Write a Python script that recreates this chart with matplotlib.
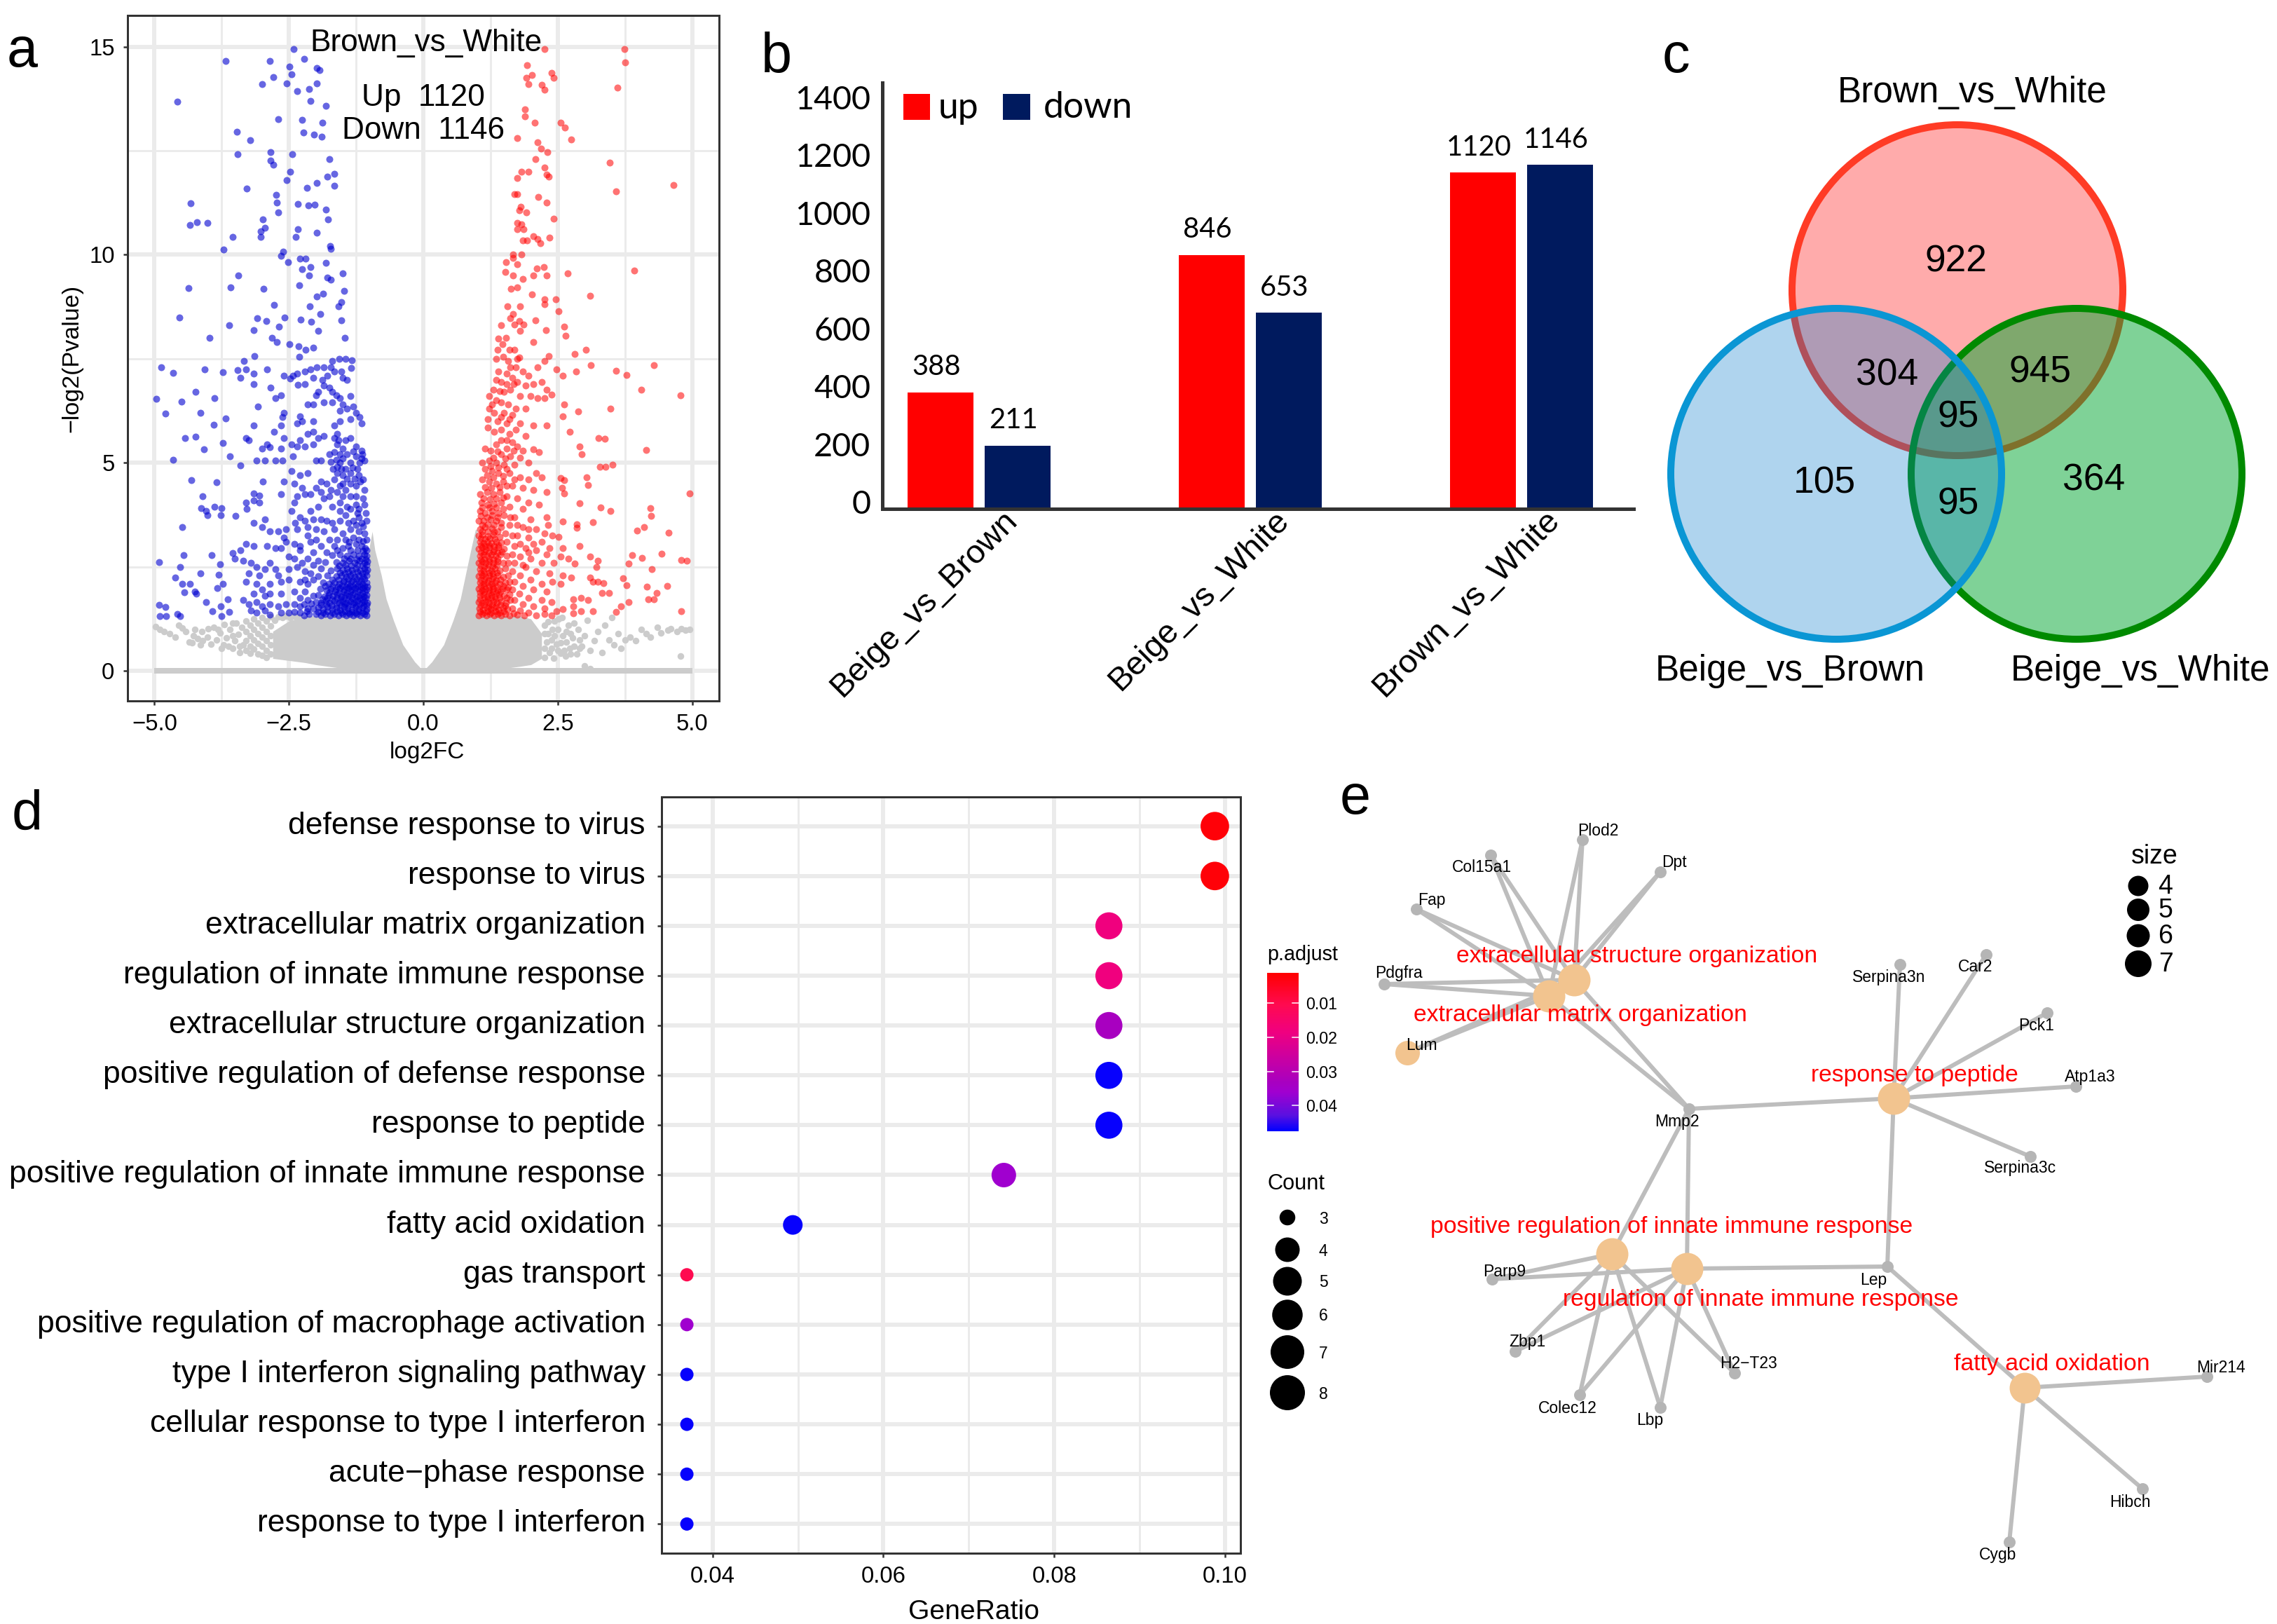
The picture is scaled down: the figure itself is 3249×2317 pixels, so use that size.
import numpy as np
import matplotlib
matplotlib.use("Agg")
import matplotlib.pyplot as plt
from matplotlib.patches import Circle, Rectangle
from matplotlib.colors import LinearSegmentedColormap, Normalize
from matplotlib.cm import ScalarMappable
from matplotlib.transforms import ScaledTranslation

W, H, DPI = 3249, 2317, 300
PT = 72 / DPI  # one image pixel in points
ARIAL = "Liberation Sans"
CALIBRI = "Lato"
plt.rcParams["font.family"] = [ARIAL, "DejaVu Sans"]

# panel a: volcano points, (log2FC, -log2 Pvalue)
blue_pts = [
    (-2.41,14.94),(-3.68,14.65),(-2.85,14.65),(-2.21,14.71),(-2.49,14.52),(-1.98,14.48),(-1.93,14.43),(-2.45,14.33),
    (-2.79,14.26),(-2.54,14.12),(-3.0,14.1),(-1.98,14.11),(-2.12,13.98),(-2.34,13.93),(-4.58,13.68),(-2.1,13.69),
    (-1.81,13.58),(-2.7,13.25),(-2.26,13.24),(-1.88,13.18),(-3.47,12.96),(-2.23,12.93),(-2.03,12.89),(-1.89,12.83),
    (-3.22,12.76),(-2.84,12.47),(-3.46,12.42),(-2.44,12.42),(-1.74,12.29),(-2.84,12.26),(-2.79,12.16),(-2.48,11.99),
    (-1.65,11.94),(-1.79,11.87),(-2.54,11.79),(-1.65,11.66),(-1.98,11.73),(-2.16,11.61),(-3.28,11.59),(-2.74,11.44),
    (-2.73,11.25),(-4.33,11.24),(-2.33,11.22),(-2.14,11.18),(-2.02,11.21),(-1.81,11.08),(-2.7,11.01),(-2.98,10.85),
    (-1.77,10.85),(-4.21,10.79),(-4.01,10.77),(-4.34,10.71),(-2.95,10.65),(-2.33,10.62),(-3.02,10.57),(-1.98,10.53),
    (-3.54,10.43),(-3.02,10.43),(-2.37,10.42),(-1.73,10.21),(-3.72,10.13),(-1.72,10.15),(-2.61,10.07),(-2.65,9.98),
    (-2.29,9.91),(-2.19,9.9),(-2.52,9.83),(-1.81,9.81),(-2.1,9.71),(-2.26,9.66),(-2.13,9.51),(-3.44,9.51),(-1.5,9.55),
    (-1.79,9.45),(-1.72,9.4),(-2.31,9.27),(-3.58,9.22),(-2.97,9.19),(-4.36,9.2),(-1.47,9.13),(-1.87,9.07),(-1.98,8.99),
    (-1.52,8.87),(-2.78,8.8),(-2.11,8.76),(-1.58,8.76),(-1.91,8.58),(-4.54,8.5),(-2.58,8.49),(-3.09,8.47),(-2.28,8.44),
    (-1.53,8.42),(-2.92,8.41),(-2.09,8.39),(-3.61,8.3),(-2.68,8.27),(-3.15,8.19),(-1.95,8.18),(-2.81,8.01),(-3.98,8.0),
    (-1.46,8.0),(-2.73,7.9),(-2.49,7.86),(-2.05,7.77),(-2.19,7.72),(-2.32,7.8),(-2.31,7.55),(-3.14,7.56),(-3.33,7.44),
    (-4.87,7.3),(-4.65,7.16),(-4.07,7.24),(-3.73,7.18),(-3.45,7.23),(-3.3,7.25),(-3.15,7.15),(-2.9,7.25),(-2.2,7.2),
    (-2.35,7.15),(-2.43,7.1),(-2.48,7.02),(-2.6,7.1),(-2.1,7.25),(-1.98,7.3),(-1.85,7.3),(-1.7,7.45),(-1.57,7.5),
    (-1.45,7.5),(-1.33,7.47),(-1.72,7.3),(-1.65,7.2),(-1.78,7.1),(-1.53,7.2),(-1.34,7.28),(-1.5,7.05),(-1.42,7.0),
    (-1.88,7.0),(-2.05,7.05),(-2.2,6.9),(-2.33,6.88),(-1.85,6.85),(-1.75,6.8),(-1.7,6.7),(-1.95,6.7),(-2.0,6.62),
    (-2.65,6.63),(-2.84,6.8),(-3.15,6.9),(-3.4,7.05),(-2.75,6.55),(-3.08,6.35),(-1.62,6.62),(-1.55,6.55),(-1.7,6.45),
    (-1.85,6.45),(-2.05,6.4),(-2.15,6.4),(-1.5,6.4),(-1.35,6.6),(-1.3,6.35),(-1.42,6.3),(-1.55,6.25),(-1.25,6.2),
    (-1.18,6.1),(-2.6,6.2),(-2.62,6.1),(-2.3,6.12),(-2.25,6.0),(-2.05,6.0),(-2.65,5.9),(-2.35,5.95),(-2.05,5.75),
    (-2.15,5.7),(-1.65,5.9),(-1.55,6.0),(-1.35,6.05),(-1.15,5.95),(-2.78,5.75),(-3.15,5.9),(-3.25,5.55),(-2.9,5.45),
    (-3.0,5.35),(-2.85,5.38),(-3.3,5.6),(-2.6,5.6),(-2.3,5.55),(-2.2,5.4),(-2.05,5.45),(-1.95,5.6),(-1.85,5.65),
    (-1.65,5.6),(-1.6,5.7),(-1.58,5.55),(-1.45,5.55),(-1.35,5.6),(-1.6,5.45),(-1.25,5.4),(-1.15,5.3),(-1.13,5.2),
    (-2.35,5.4),(-2.45,5.45),(-2.42,5.15),(-2.65,5.35),(-1.5,5.1),(-1.15,5.1),(-1.25,5.15),(-1.65,5.25),(-1.75,5.2),
    (-2.95,5.05),(-3.1,5.05),(-2.75,5.05),(-2.62,5.05),(-2.0,5.05),(-1.9,5.05),(-1.55,5.0),(-1.6,4.9),(-1.45,4.85),
    (-1.35,5.0),(-1.22,4.85),(-1.1,5.05),(-1.5,4.7),(-1.6,4.75),(-1.35,4.75),(-1.2,4.7),(-1.12,4.6),
    (-4.96,6.53),(-4.79,6.19),(-4.5,6.47),(-4.24,6.7),(-3.89,6.55),(-4.14,6.2),(-3.9,5.91),(-3.67,6.07),(-4.43,5.6),
    (-4.24,5.63),(-3.73,5.48),(-4.08,5.33),(-4.65,5.07),(-3.6,5.16),(-3.4,4.94),(-4.32,4.58),(-3.84,4.54),(-4.11,4.19),
    (-4.13,3.91),(-4.04,3.84),(-3.89,3.94),(-3.75,3.91),(-4.01,3.74),(-3.77,3.74),(-4.48,3.46),(-3.49,3.73),(-3.29,3.89),
    (-3.93,2.78),(-4.46,2.78),(-4.91,2.62),(-4.52,2.49),(-4.61,2.25),(-4.15,2.35),(-4.34,2.1),(-4.48,2.1),(-4.44,1.89),
    (-4.22,1.85),(-4.04,1.65),(-4.91,1.58),(-4.8,1.54),(-4.9,1.32),(-4.78,1.32),(-4.58,1.36),(-4.52,1.32),(-4.25,1.9),
    (-3.78,2.57),(-3.55,2.83),(-3.8,2.31),(-3.83,1.99),(-3.73,2.1),(-3.92,1.44),(-3.77,1.56),(-3.75,1.32),(-3.61,1.42),
    (-3.64,1.73),
    (-2.45,4.8),(-2.3,4.7),(-2.15,4.75),(-2.98,4.55),(-2.6,4.55),(-2.4,4.5),(-1.9,4.55),(-1.8,4.5),(-1.65,4.6),(-1.5,4.5),
    (-1.35,4.5),(-1.25,4.45),(-1.1,4.35),(-1.6,4.3),(-1.5,4.2),(-1.35,4.2),(-1.75,4.2),(-1.85,4.15),(-2.2,4.25),(-2.1,4.25),
    (-2.65,4.25),(-3.15,4.27),(-3.05,4.22),(-3.3,4.05),(-3.15,4.1),(-3.05,4.05),(-2.4,4.05),(-1.55,4.05),(-1.7,3.95),
    (-1.25,4.0),(-1.1,4.0),(-1.2,3.9),(-1.35,3.9),(-1.45,3.75),(-1.55,3.85),(-2.1,3.85),(-2.3,3.7),(-2.2,3.6),(-2.38,3.55),
    (-2.05,3.65),(-1.9,3.65),(-1.8,3.6),(-1.7,3.55),(-1.55,3.6),(-1.3,3.6),(-1.2,3.7),(-1.15,3.55),(-1.05,3.6),(-2.95,3.65),
    (-3.15,3.55),(-3.0,3.45),(-2.85,3.35),(-2.7,3.35),(-2.55,3.4),(-2.15,3.45),(-2.0,3.4),(-1.85,3.35),(-1.65,3.4),(-1.5,3.3),
    (-1.35,3.4),(-1.2,3.35),(-1.1,3.3),(-1.05,3.15),(-1.3,3.2),(-1.45,3.15),(-1.6,3.15),(-1.75,3.15),(-2.0,3.15),(-2.1,3.1),
    (-2.3,3.0),(-2.55,3.1),(-2.6,3.2),(-2.75,2.95),(-3.3,3.05),(-3.4,2.9),(-3.15,3.0),(-2.9,3.0),(-2.65,2.95),(-2.4,3.05),
    (-2.3,2.9),(-1.65,3.0),(-1.5,2.95),(-1.4,3.0),(-1.25,3.05),(-1.15,3.0),(-1.08,2.95),
    (-3.5,2.7),(-3.35,2.65),(-3.2,2.6),(-3.1,2.5),(-2.85,2.6),(-2.95,2.45),(-2.75,2.45),(-3.25,2.35),(-3.05,2.3),(-2.7,2.3),
    (-2.5,2.45),(-2.35,2.5),(-2.2,2.4),(-2.1,2.35),(-3.3,2.15),(-3.1,2.1),(-2.85,2.1),(-2.65,2.15),(-2.5,2.2),(-2.3,2.15),
    (-2.15,2.1),(-3.0,1.95),(-3.15,1.85),(-2.95,1.8),(-2.85,1.85),(-2.65,1.85),(-2.4,1.9),(-2.2,1.9),(-3.35,1.7),(-3.25,1.6),
    (-3.1,1.65),(-3.0,1.55),(-2.85,1.6),(-2.7,1.55),(-2.55,1.6),(-2.4,1.6),(-2.3,1.55),(-3.2,1.45),(-3.1,1.4),(-2.95,1.45),
    (-2.85,1.35),(-2.65,1.4),(-2.5,1.4),(-2.4,1.42),(-2.3,1.4),(-2.15,1.5),
]
# the crowded base of the blue fan
blue_core = [
    (-2.0,1.36),(-1.9,1.34),(-1.82,1.37),(-1.73,1.34),(-1.66,1.36),(-1.58,1.33),(-1.5,1.36),(-1.44,1.34),(-1.37,1.37),
    (-1.3,1.33),(-1.24,1.36),(-1.17,1.34),(-1.1,1.37),(-1.05,1.34),(-2.05,1.5),(-1.95,1.52),(-1.86,1.48),(-1.78,1.53),
    (-1.7,1.49),(-1.62,1.52),(-1.55,1.47),(-1.47,1.53),(-1.41,1.5),(-1.33,1.47),(-1.27,1.53),(-1.2,1.49),(-1.13,1.52),
    (-1.06,1.48),(-2.0,1.66),(-1.9,1.63),(-1.81,1.68),(-1.74,1.64),(-1.66,1.68),(-1.57,1.63),(-1.5,1.67),(-1.43,1.63),
    (-1.36,1.67),(-1.29,1.64),(-1.22,1.68),(-1.15,1.63),(-1.09,1.67),(-1.04,1.63),(-1.95,1.82),(-1.84,1.79),(-1.76,1.83),
    (-1.68,1.8),(-1.6,1.84),(-1.52,1.79),(-1.45,1.83),(-1.38,1.8),(-1.31,1.84),(-1.24,1.79),(-1.17,1.83),(-1.11,1.79),
    (-1.05,1.82),(-1.92,1.97),(-1.8,1.94),(-1.72,1.98),(-1.63,1.95),(-1.55,1.99),(-1.47,1.95),(-1.4,1.99),(-1.33,1.95),
    (-1.26,1.99),(-1.19,1.95),(-1.12,1.99),(-1.06,1.95),(-1.87,2.12),(-1.76,2.09),(-1.66,2.13),(-1.56,2.1),(-1.48,2.14),
    (-1.41,2.1),(-1.34,2.14),(-1.27,2.1),(-1.2,2.14),(-1.13,2.1),(-1.06,2.13),(-1.95,2.27),(-1.78,2.3),(-1.62,2.27),
    (-1.52,2.3),(-1.44,2.26),(-1.36,2.3),(-1.28,2.26),(-1.2,2.3),(-1.12,2.26),(-1.05,2.29),(-1.9,2.46),(-1.72,2.42),
    (-1.6,2.47),(-1.5,2.43),(-1.42,2.47),(-1.33,2.43),(-1.25,2.47),(-1.17,2.42),(-1.09,2.46),(-1.04,2.43),(-1.83,2.62),
    (-1.62,2.62),(-1.5,2.6),(-1.38,2.64),(-1.28,2.6),(-1.18,2.64),(-1.1,2.6),(-1.04,2.63),(-1.7,2.78),(-1.55,2.8),
    (-1.42,2.76),(-1.3,2.8),(-1.2,2.76),(-1.1,2.8),(-1.05,2.76),
    # second pass through the same band
    (-1.96,1.42),(-1.87,1.41),(-1.78,1.43),(-1.69,1.41),(-1.6,1.43),(-1.53,1.4),(-1.46,1.43),(-1.4,1.41),(-1.33,1.42),
    (-1.26,1.4),(-1.2,1.43),(-1.14,1.41),(-1.07,1.43),(-1.9,1.58),(-1.8,1.6),(-1.71,1.57),(-1.62,1.6),(-1.53,1.57),
    (-1.46,1.6),(-1.39,1.57),(-1.32,1.6),(-1.25,1.57),(-1.18,1.6),(-1.11,1.57),(-1.05,1.58),(-1.88,1.73),(-1.78,1.75),
    (-1.7,1.72),(-1.6,1.75),(-1.54,1.72),(-1.47,1.75),(-1.4,1.72),(-1.33,1.75),(-1.26,1.72),(-1.19,1.75),(-1.13,1.72),
    (-1.07,1.75),(-1.74,1.89),(-1.64,1.9),(-1.57,1.87),(-1.49,1.9),(-1.42,1.87),(-1.35,1.9),(-1.28,1.87),(-1.21,1.9),
    (-1.14,1.87),(-1.08,1.9),(-1.83,2.04),(-1.69,2.05),(-1.59,2.03),(-1.51,2.05),(-1.44,2.03),(-1.37,2.05),(-1.3,2.03),
    (-1.23,2.05),(-1.16,2.03),(-1.09,2.05),(-1.04,2.02),(-1.7,2.2),(-1.58,2.2),(-1.47,2.18),(-1.39,2.21),(-1.31,2.18),
    (-1.24,2.21),(-1.16,2.18),(-1.09,2.21),(-1.55,2.37),(-1.46,2.35),(-1.39,2.38),(-1.31,2.35),(-1.22,2.38),(-1.14,2.35),
    (-1.07,2.38),(-1.57,2.53),(-1.45,2.55),(-1.34,2.53),(-1.22,2.55),(-1.13,2.53),(-1.06,2.55),(-1.47,2.7),(-1.36,2.7),
    (-1.24,2.68),(-1.15,2.7),(-1.07,2.68),(-1.35,2.9),(-1.22,2.9),(-1.12,2.88),(-1.06,2.9),(-1.6,2.9),(-1.2,3.15),
    (-1.12,3.12),(-1.38,3.1),(-1.12,3.48),(-1.25,3.5),(-1.4,3.55),(-1.07,3.8),(-1.22,3.8),(-1.42,3.95),(-1.12,4.15),
    (-1.25,4.2),(-1.45,4.35),(-1.55,4.45),(-1.17,4.55),(-1.28,4.62),(-1.42,4.62),(-1.52,4.85),(-1.32,4.88),(-1.18,5.0),
    (-1.42,5.2),(-1.55,5.2),(-1.3,5.28),(-1.5,5.35),(-1.62,5.08),(-1.72,5.02),(-1.68,4.85),(-1.72,4.35),(-1.9,4.3),
    (-2.0,4.4),(-2.25,4.4),(-2.35,4.2),(-1.95,3.95),(-2.45,3.85),(-2.35,3.4),(-2.15,3.25),(-1.9,3.0),(-1.8,2.85),(-2.05,2.85),
    (-2.15,2.7),(-1.95,2.65),(-2.05,2.55),(-2.25,2.6),(-2.4,2.7),(-2.5,2.75),(-2.05,2.2),(-2.2,2.2),(-2.05,1.8),(-2.15,1.7),
    (-2.3,1.75),(-2.08,1.62),(-2.22,1.6),(-2.12,1.36),(-2.22,1.34),(-2.17,1.43),
]
red_pts = [
    (2.25,14.94),(3.74,14.94),(3.76,14.62),(1.93,14.55),(2.38,14.37),(2.02,14.32),(1.91,14.25),(2.42,14.25),(2.2,14.09),
    (1.96,14.1),(2.26,13.96),(3.61,14.02),(1.89,13.5),(1.89,13.33),(2.07,13.17),(2.56,13.17),(2.63,13.06),(1.74,12.8),
    (2.75,12.77),(2.12,12.71),(2.19,12.55),(2.31,12.46),(2.09,12.3),(3.47,12.22),(2.26,12.09),(1.82,12.0),(1.96,12.0),
    (2.3,11.93),(1.74,11.85),(2.33,11.87),(4.65,11.68),(3.59,11.52),(1.69,11.46),(1.75,11.46),(2.14,11.38),(2.29,11.25),
    (1.81,11.16),(1.78,11.06),(1.91,11.02),(2.42,10.86),(1.75,10.77),(1.82,10.73),(1.87,10.62),(1.74,10.62),(2.04,10.44),
    (1.85,10.35),(1.93,10.35),(2.13,10.38),(2.35,10.41),(2.18,10.27),(1.67,10.01),(1.82,10.01),(1.67,9.92),(1.54,9.83),
    (1.75,9.77),(2.11,9.67),(2.24,9.7),(3.92,9.62),(1.52,9.59),(1.67,9.51),(2.69,9.55),(2.29,9.5),(2.05,9.5),(1.85,9.42),
    (1.74,9.22),(1.63,9.19),(2.02,9.05),(3.1,9.01),(2.46,8.93),(2.25,8.93),(2.25,8.81),(1.56,8.76),(1.8,8.76),(2.51,8.64),
    (1.67,8.58),(2.09,8.42),(1.61,8.47),(1.78,8.41),(1.45,8.3),(1.69,8.33),(1.86,8.33),(2.62,8.28),(2.28,8.19),(1.8,8.18),
    (2.65,8.06),(1.4,7.98),(1.54,8.0),(2.04,7.91),(1.47,7.85),(1.6,7.71),(1.69,7.71),(1.38,7.71),(3.03,7.71),(2.81,7.62),
    (2.33,7.56),(1.78,7.54),(4.29,7.34),(3.12,7.35),(3.59,7.21),(3.78,7.11),(2.84,7.19),(2.6,7.1),(2.48,7.25),(4.05,6.76),
    (4.78,6.62),(2.38,6.64),(2.62,6.4),(3.48,6.3),(2.88,6.24),(2.6,6.12),(2.72,5.74),(3.26,5.6),(3.37,5.57),(4.14,5.31),
    (2.9,5.39),(2.95,5.21),(3.28,4.91),(3.39,4.91),(3.52,4.95),(2.55,4.63),(2.62,4.58),(3.04,4.66),(3.06,4.46),(2.58,4.4),
    (2.62,4.26),(4.95,4.26),(2.9,4.03),(3.3,3.93),(3.48,3.84),(4.22,3.91),(4.24,3.73),(3.15,3.57),(2.86,3.53),(2.59,3.59),
    (4.1,3.45),(3.98,3.37),(4.56,3.32),(2.86,3.44),(2.51,3.22),(2.32,3.5),(4.43,2.81),(3.88,2.78),(4.07,2.71),(3.1,2.75),
    (3.25,2.64),(3.82,2.58),(4.79,2.66),(4.9,2.65),(4.25,2.45),(2.81,2.58),(3.22,2.49),(3.1,2.25),(3.72,2.23),(3.15,2.14),
    (3.25,2.14),(3.35,2.11),(3.78,2.06),(4.16,2.03),(4.54,2.04),(4.34,1.87),(4.29,1.73),(4.18,1.73),(3.82,1.65),(3.45,1.87),
    (3.32,1.87),(3.06,1.71),(2.93,1.75),(2.79,1.73),(2.79,1.56),(4.8,1.43),(3.67,1.56),(3.59,1.42),(3.15,1.44),(2.93,1.44),
    (2.79,1.38),(2.6,1.48),(2.48,1.44),
    (1.35,7.5),(1.48,7.55),(1.58,7.45),(1.72,7.3),(1.85,7.2),(1.95,7.1),(2.12,7.3),(2.25,7.45),(1.4,7.2),(1.55,7.15),(1.65,7.05),
    (1.35,7.0),(1.45,6.95),(1.75,6.95),(1.9,6.85),(2.05,6.9),(2.2,6.95),(2.3,6.75),(1.3,6.75),(1.5,6.7),(1.62,6.75),(1.8,6.6),
    (2.0,6.6),(2.12,6.55),(2.25,6.55),(1.22,6.6),(1.35,6.5),(1.45,6.45),(1.58,6.4),(1.72,6.3),(1.9,6.3),(1.22,6.3),(1.32,6.2),
    (1.5,6.2),(1.65,6.15),(1.2,6.05),(1.38,6.0),(1.55,5.95),(1.8,5.95),(2.05,5.9),(2.3,5.9),(1.2,5.85),(1.32,5.75),(1.45,5.8),
    (1.6,5.7),(1.72,5.8),(1.9,5.65),(1.45,5.55),(1.55,5.55),(1.65,5.5),(1.35,5.45),(1.75,5.4),(1.15,5.35),(1.25,5.3),(1.85,5.3),
    (2.05,5.32),(2.15,5.25),(1.45,5.2),(1.62,5.15),(1.8,5.12),(1.1,5.0),(1.22,5.05),(1.35,5.0),(1.5,4.95),(1.7,4.95),(1.95,5.0),
    (2.1,4.75),(2.2,4.65),(1.15,4.85),(1.28,4.8),(1.4,4.75),(1.6,4.75),(1.8,4.65),(1.95,4.6),(1.1,4.6),(1.22,4.55),(1.35,4.5),
    (1.48,4.55),(1.65,4.45),(1.85,4.4),(2.05,4.35),(2.3,4.3),(1.05,4.25),(1.18,4.3),(1.3,4.25),(1.42,4.3),(1.55,4.2),(1.75,4.15),
    (1.95,4.05),(2.15,4.0),(1.08,4.05),(1.2,4.0),(1.32,4.02),(1.45,4.05),(1.6,3.95),(1.85,3.9),(1.05,3.85),(1.15,3.8),(1.28,3.85),
    (1.4,3.8),(1.5,3.75),(1.7,3.7),(2.0,3.65),(2.3,3.7),(1.03,3.6),(1.12,3.6),(1.25,3.65),(1.35,3.6),(1.45,3.55),(1.6,3.5),
    (1.85,3.45),(2.1,3.4),(2.25,3.3),(2.4,3.25),(1.05,3.4),(1.15,3.45),(1.28,3.42),(1.38,3.35),(1.52,3.3),(1.75,3.25),(1.95,3.2),
    (2.2,3.1),(2.35,2.95),(2.6,2.95),(2.9,3.0),(1.7,3.0),(1.9,2.95),(2.1,2.9),(2.3,2.8),(2.55,2.75),(2.7,2.7),(1.65,2.8),(1.8,2.75),
    (2.0,2.7),(2.2,2.6),(2.42,2.6),(1.7,2.6),(1.9,2.5),(2.1,2.4),(2.35,2.35),(2.6,2.3),(2.75,2.25),(1.65,2.4),(1.8,2.3),(2.0,2.2),
    (2.2,2.1),(2.4,2.15),(2.55,2.1),(1.7,2.15),(1.85,2.05),(2.05,1.95),(2.3,1.9),(1.65,1.95),(1.78,1.85),(1.95,1.75),(2.2,1.7),
    (2.38,1.65),(1.7,1.7),(1.85,1.6),(2.05,1.55),(2.25,1.5),(1.65,1.5),(1.8,1.45),(1.95,1.4),(2.1,1.34),(2.25,1.36),(2.38,1.34),
]
# the crowded base of the red fan
red_core = [
    (1.03,1.34),(1.1,1.37),(1.17,1.33),(1.24,1.36),(1.31,1.34),(1.38,1.37),(1.45,1.33),(1.52,1.36),(1.6,1.34),(1.04,1.5),(1.11,1.47),
    (1.18,1.52),(1.25,1.48),(1.32,1.52),(1.4,1.47),(1.48,1.52),(1.56,1.49),(1.03,1.66),(1.09,1.63),(1.16,1.67),(1.23,1.63),(1.3,1.67),
    (1.37,1.63),(1.45,1.67),(1.54,1.64),(1.05,1.8),(1.12,1.84),(1.19,1.79),(1.26,1.83),(1.33,1.79),(1.41,1.84),(1.5,1.8),(1.6,1.84),
    (1.03,1.97),(1.09,1.94),(1.16,1.98),(1.23,1.94),(1.3,1.98),(1.38,1.94),(1.47,1.98),(1.55,1.95),(1.05,2.12),(1.12,2.09),(1.19,2.13),
    (1.26,2.09),(1.33,2.13),(1.42,2.09),(1.52,2.13),(1.03,2.27),(1.09,2.3),(1.16,2.26),(1.23,2.3),(1.3,2.26),(1.38,2.3),(1.48,2.26),
    (1.58,2.3),(1.05,2.45),(1.12,2.42),(1.19,2.46),(1.26,2.42),(1.33,2.46),(1.42,2.42),(1.52,2.46),(1.03,2.6),(1.09,2.63),(1.16,2.59),
    (1.23,2.63),(1.3,2.59),(1.38,2.63),(1.48,2.6),(1.05,2.76),(1.12,2.8),(1.19,2.76),(1.26,2.8),(1.34,2.76),(1.43,2.8),(1.55,2.76),
    (1.03,2.93),(1.09,2.96),(1.16,2.92),(1.23,2.96),(1.31,2.92),(1.4,2.96),(1.5,2.93),(1.05,3.1),(1.12,3.07),(1.19,3.11),(1.26,3.07),
    (1.35,3.11),(1.45,3.08),(1.03,3.25),(1.1,3.27),(1.2,3.24),(1.3,3.27),(1.42,3.22),
    # second pass through the same band
    (1.06,1.42),(1.13,1.41),(1.2,1.43),(1.27,1.41),(1.34,1.43),(1.42,1.41),(1.5,1.43),(1.07,1.57),(1.14,1.59),(1.21,1.56),(1.28,1.59),
    (1.35,1.56),(1.43,1.59),(1.52,1.57),(1.06,1.73),(1.13,1.75),(1.2,1.72),(1.27,1.75),(1.34,1.72),(1.42,1.75),(1.06,1.89),(1.13,1.9),
    (1.22,1.88),(1.29,1.9),(1.36,1.88),(1.44,1.9),(1.07,2.04),(1.14,2.05),(1.22,2.03),(1.29,2.05),(1.37,2.03),(1.48,2.05),(1.07,2.2),
    (1.14,2.2),(1.21,2.18),(1.28,2.21),(1.35,2.18),(1.44,2.2),(1.07,2.36),(1.14,2.35),(1.22,2.37),(1.29,2.35),(1.37,2.37),(1.07,2.53),
    (1.14,2.52),(1.21,2.54),(1.29,2.52),(1.37,2.54),(1.07,2.69),(1.14,2.68),(1.22,2.7),(1.3,2.68),(1.38,2.7),(1.07,2.85),(1.14,2.86),
    (1.22,2.85),(1.3,2.86),(1.38,2.85),(1.46,2.86),(1.07,3.02),(1.15,3.0),(1.23,3.02),(1.31,3.0),(1.4,3.02),(1.07,3.18),(1.15,3.17),
    (1.24,3.18),(1.33,3.17),(1.1,3.35),(1.2,3.35),(1.32,3.34),(1.45,3.45),(1.1,3.5),(1.2,3.52),(1.32,3.5),(1.07,3.72),(1.18,3.7),
    (1.28,3.74),(1.38,3.7),(1.1,3.93),(1.22,3.92),(1.35,3.93),(1.48,3.9),(1.12,4.15),(1.24,4.13),(1.36,4.15),(1.48,4.17),(1.15,4.42),
    (1.27,4.4),(1.42,4.42),(1.55,4.45),(1.18,4.7),(1.3,4.65),(1.48,4.68),(1.25,4.92),(1.4,4.88),(1.55,4.85),(1.3,5.12),(1.52,5.1),
    (1.38,5.28),(1.55,5.35),(1.68,5.3),(1.7,4.6),(1.62,3.7),(1.75,3.5),(1.55,3.1),(1.65,3.25),(1.58,2.6),(1.6,2.15),(1.58,2.0),(1.62,1.7),
    (1.55,1.75),(1.75,1.35),(1.68,1.38),(1.88,1.34),(1.85,2.55),(1.95,2.85),(2.05,3.05),(1.8,3.05),(1.95,3.4),(1.45,6.1),(1.6,6.05),
    (1.28,6.4),(1.42,6.72),(1.55,6.9),(1.68,6.9),(1.62,7.3),(1.75,7.5),
]
# grey cloud: its outline over the crowded middle, separate points outside it
grey_x = [-2.8,-2.5,-2.2,-2.0,-1.5,-1.02,-1.0,-0.95,-0.9,-0.78,-0.69,-0.55,-0.38,-0.16,0.0,
          0.16,0.38,0.55,0.69,0.8,0.9,0.97,1.0,1.02,1.5,1.8,2.0,2.2]
grey_top = [0.95,1.2,1.32,1.32,1.32,1.32,3.0,3.35,2.9,2.3,1.73,1.2,0.63,0.22,0.0,
            0.22,0.63,1.2,1.73,2.4,3.0,3.4,3.4,1.32,1.32,1.32,1.25,0.9]
grey_bottom = [0.3,0.25,0.2,0.15,0.06,0.02,0.02,0.01,0.0,0.0,0.0,0.0,0.0,0.0,0.0,
               0.0,0.0,0.0,0.0,0.0,0.0,0.01,0.02,0.02,0.06,0.11,0.15,0.3]
grey_pts = [
    (-4.98,1.07),(-4.9,1.0),(-4.82,0.95),(-4.72,0.9),(-4.62,0.82),(-4.55,1.1),(-4.48,1.03),(-4.42,0.95),(-4.35,0.7),(-4.28,0.85),
    (-4.2,0.78),(-4.1,0.72),(-4.02,0.82),(-3.95,0.65),(-3.85,0.75),(-3.78,0.92),(-3.72,0.62),(-3.66,0.8),(-3.6,1.0),(-3.55,0.55),
    (-3.5,0.72),(-3.44,0.88),(-3.38,1.05),(-3.35,0.62),(-4.25,1.0),(-4.12,0.95),(-3.9,1.05),(-3.7,1.12),(-3.48,1.15),
    (-3.3,1.2),(-3.3,0.95),(-3.3,0.72),(-3.3,0.5),(-3.22,1.1),(-3.22,0.85),(-3.22,0.6),(-3.22,0.42),(-3.15,1.25),(-3.15,1.0),(-3.15,0.75),
    (-3.15,0.52),(-3.08,1.15),(-3.08,0.9),(-3.08,0.66),(-3.08,0.4),(-3.0,1.28),(-3.0,1.05),(-3.0,0.82),(-3.0,0.6),(-3.0,0.38),
    (-2.92,1.2),(-2.92,0.95),(-2.92,0.72),(-2.92,0.5),(-2.92,0.33),(-2.84,1.3),(-2.84,1.08),(-2.84,0.85),(-2.84,0.62),(-2.84,0.4),
    (-2.76,1.22),(-2.7,1.3),(-2.62,1.28),(-2.55,1.31),(-2.48,1.28),(-2.4,1.31),(-2.32,1.3),
    (-4.0,1.02),(-3.82,1.0),(-3.75,0.55),(-3.62,0.6),(-3.55,0.85),(-3.42,0.6),(-3.42,0.45),(-3.55,1.15),(-4.3,0.68),(-4.15,0.62),
    (2.25,1.1),(2.3,0.7),(2.35,0.45),(2.4,1.0),(2.42,0.3),(2.48,0.65),(2.52,1.25),(2.55,0.42),(2.6,0.85),(2.65,0.35),(2.7,1.1),
    (2.72,0.55),(2.78,0.8),(2.85,0.4),(2.88,1.0),(2.95,0.6),(3.0,0.85),(3.05,1.22),(3.1,0.5),(3.18,0.72),(3.25,0.95),(3.32,0.45),
    (3.38,1.1),(3.45,0.75),(3.5,1.28),(3.55,0.62),(3.62,0.9),(3.68,0.55),(3.75,0.75),(3.85,0.82),(3.95,0.72),(4.05,1.0),(4.15,0.9),
    (4.22,0.82),(4.35,1.05),(4.42,0.92),(4.55,0.98),(4.6,1.02),(4.72,0.95),(4.8,1.02),(4.88,0.98),(4.95,0.99),(4.78,0.35),(3.0,0.12),
    (3.1,0.05),
    (2.25,0.9),(2.25,0.55),(2.25,0.32),(2.32,1.18),(2.32,0.9),(2.38,0.75),(2.38,0.55),(2.44,1.2),(2.44,0.85),(2.5,1.0),(2.5,0.5),
    (2.56,0.68),(2.58,1.28),(2.62,0.5),(2.66,0.95),(2.66,0.7),(2.74,0.9),(2.74,0.4),(2.8,1.15),(2.8,0.6),(2.9,0.75),(2.9,0.55),
]
zero_row_x = [-4.95, 4.95]
zero_row_y = [0.0, 0.0]
volcano_xticks = [-5.0, -2.5, 0.0, 2.5, 5.0]
volcano_yticks = [0, 5, 10, 15]

# panel b
comparisons = ["Beige_vs_Brown", "Beige_vs_White", "Brown_vs_White"]
up_counts = [388, 846, 1120]
down_counts = [211, 653, 1146]
count_ticks = [0, 200, 400, 600, 800, 1000, 1200, 1400]

# panel c
venn_names = ["Brown_vs_White", "Beige_vs_Brown", "Beige_vs_White"]
venn_counts = ["922", "304", "945", "95", "105", "95", "364"]

# panel d
go_terms = ["defense response to virus", "response to virus", "extracellular matrix organization",
            "regulation of innate immune response", "extracellular structure organization",
            "positive regulation of defense response", "response to peptide",
            "positive regulation of innate immune response", "fatty acid oxidation", "gas transport",
            "positive regulation of macrophage activation", "type I interferon signaling pathway",
            "cellular response to type I interferon", "acute\u2212phase response", "response to type I interferon"]
gene_ratio = [0.0988, 0.0988, 0.0864, 0.0864, 0.0864, 0.0864, 0.0864, 0.0741, 0.0494, 0.037, 0.037, 0.037, 0.037, 0.037, 0.037]
go_count = [8, 8, 7, 7, 7, 7, 7, 6, 4, 3, 3, 3, 3, 3, 3]
p_adjust = [0.002, 0.002, 0.018, 0.018, 0.033, 0.047, 0.047, 0.036, 0.047, 0.0105, 0.036, 0.047, 0.047, 0.047, 0.047]
ratio_ticks = [0.04, 0.06, 0.08, 0.10]
ratio_minor = [0.05, 0.07, 0.09]
padj_ticks = [0.01, 0.02, 0.03, 0.04]
count_levels = [3, 4, 5, 6, 7, 8]

# panel e
size_levels = [4, 5, 6, 7]
term_edges = {
    "extracellular structure organization": ["Plod2", "Col15a1", "Dpt", "Fap", "Pdgfra", "Lum", "Mmp2"],
    "extracellular matrix organization": ["Plod2", "Col15a1", "Dpt", "Fap", "Pdgfra", "Lum", "Mmp2"],
    "response to peptide": ["Serpina3n", "Car2", "Pck1", "Atp1a3", "Serpina3c", "Mmp2", "Lep"],
    "positive regulation of innate immune response": ["Parp9", "Zbp1", "Colec12", "Lbp", "H2\u2212T23", "Mmp2"],
    "regulation of innate immune response": ["Parp9", "Zbp1", "Colec12", "Lbp", "H2\u2212T23", "Mmp2", "Lep"],
    "fatty acid oxidation": ["Lep", "Mir214", "Hibch", "Cygb"],
}

# layout, in image pixels
node_xy = {
    "Plod2": (2258,1198), "Col15a1": (2127,1220), "Dpt": (2369,1244), "Fap": (2021,1297), "Pdgfra": (1975,1404),
    "Lum": (2008,1502), "Mmp2": (2410,1582), "Serpina3n": (2711,1376), "Car2": (2834,1362), "Pck1": (2921,1445),
    "Atp1a3": (2962,1550), "Serpina3c": (2897,1650), "Lep": (2693,1807), "Parp9": (2129,1825), "Zbp1": (2162,1928),
    "Colec12": (2254,1990), "Lbp": (2369,2008), "H2\u2212T23": (2475,1959), "Mir214": (3149,1964), "Hibch": (3057,2124),
    "Cygb": (2867,2200),
    "extracellular structure organization": (2246,1398), "extracellular matrix organization": (2210,1421),
    "response to peptide": (2702,1567), "positive regulation of innate immune response": (2300,1789),
    "regulation of innate immune response": (2407,1810), "fatty acid oxidation": (2889,1980),
}
gene_label_xy = {
    "Plod2": (2280,1185), "Col15a1": (2114,1238), "Dpt": (2389,1230), "Fap": (2043,1285), "Pdgfra": (1996,1389),
    "Lum": (2028,1491), "Serpina3n": (2695,1395), "Car2": (2819,1380), "Pck1": (2906,1464), "Atp1a3": (2982,1536),
    "Serpina3c": (2883,1667), "Mmp2": (2393,1601), "Parp9": (2147,1814), "Lep": (2673,1827), "Zbp1": (2179,1915),
    "H2\u2212T23": (2495,1946), "Colec12": (2237,2009), "Lbp": (2354,2026), "Mir214": (3169,1951), "Hibch": (3039,2144),
    "Cygb": (2851,2219),
}
term_label_xy = {
    "extracellular structure organization": (2336,1365), "extracellular matrix organization": (2255,1448),
    "response to peptide": (2732,1534), "positive regulation of innate immune response": (2385,1750),
    "regulation of innate immune response": (2512,1855), "fatty acid oxidation": (2928,1947),
}
term_size_px = {"extracellular structure organization": 46, "extracellular matrix organization": 46,
                "response to peptide": 46, "positive regulation of innate immune response": 46,
                "regulation of innate immune response": 46, "fatty acid oxidation": 44}

fig = plt.figure(figsize=(W / DPI, H / DPI), dpi=DPI)


def panel(left, top, right, bottom):
    return fig.add_axes([left / W, 1 - bottom / H, (right - left) / W, (bottom - top) / H])


def grid_lines(ax, xmajor, xminor, ymajor, yminor):
    for v in xmajor:
        ax.axvline(v, color="#EBEBEB", lw=6 * PT, zorder=0)
    for v in xminor:
        ax.axvline(v, color="#EBEBEB", lw=3 * PT, zorder=0)
    for v in ymajor:
        ax.axhline(v, color="#EBEBEB", lw=6 * PT, zorder=0)
    for v in yminor:
        ax.axhline(v, color="#EBEBEB", lw=3 * PT, zorder=0)


def box(ax):
    for s in ax.spines.values():
        s.set_color("#333333")
        s.set_linewidth(3 * PT)
    ax.tick_params(length=6 * PT, width=2.5 * PT, color="#333333", labelcolor="black")


# --- a: volcano
ax_a = panel(182, 22, 1026, 1000)
ax_a.set_xlim(-5.5, 5.5)
ax_a.set_ylim(-0.72, 15.75)
grid_lines(ax_a, volcano_xticks, [-3.75, -1.25, 1.25, 3.75], volcano_yticks, [2.5, 7.5, 12.5])
ax_a.fill_between(grey_x, grey_bottom, grey_top, color="#CCCCCC", lw=0, zorder=1)
gx, gy = zip(*grey_pts)
ax_a.scatter(gx, gy, s=(9.5 * PT) ** 2, c="#CCCCCC", lw=0, zorder=1)
ax_a.plot(zero_row_x, zero_row_y, color="#CCCCCC", lw=8 * PT, zorder=1)
bx, by = zip(*(blue_pts + blue_core))
ax_a.scatter(bx, by, s=(10 * PT) ** 2, c="#0000D0", alpha=0.6, lw=0, zorder=2)
rx, ry = zip(*(red_pts + red_core))
ax_a.scatter(rx, ry, s=(10 * PT) ** 2, c="#FF0000", alpha=0.55, lw=0, zorder=2)
ax_a.set_xticks(volcano_xticks)
ax_a.set_xticklabels(["\u22125.0", "\u22122.5", "0.0", "2.5", "5.0"])
ax_a.set_yticks(volcano_yticks)
ax_a.tick_params(labelsize=7.9, pad=3)
box(ax_a)
ax_a.set_xlabel("log2FC", fontsize=8.0, labelpad=2, x=0.507)
ax_a.set_ylabel("\u2212log2(Pvalue)", fontsize=8.2, labelpad=2)

# --- b: bars
ax_b = panel(1259, 118, 2331, 726)
group = np.arange(len(comparisons))
ax_b.bar(group - 0.142, up_counts, 0.243, color="#FF0000")
ax_b.bar(group + 0.142, down_counts, 0.243, color="#001A5E")
for i in group:
    for off, val in ((-0.142, up_counts[i]), (0.142, down_counts[i])):
        ax_b.annotate(str(val), (i + off, val), xytext=(-6 * PT, 36 * PT), textcoords="offset points",
                      ha="center", va="center", fontsize=9.6, family=CALIBRI)
    ax_b.annotate(comparisons[i], (i, 0), xytext=(32 * PT, 6 * PT), textcoords="offset points", ha="right",
                  va="top", rotation=45, rotation_mode="anchor", fontsize=11.4)
ax_b.set_xlim(-0.357, 2.413)
ax_b.set_ylim(0, 1420)
ax_b.set_xticks([])
ax_b.set_yticks([])
for s in ("top", "right"):
    ax_b.spines[s].set_visible(False)
for s in ("left", "bottom"):
    ax_b.spines[s].set_color("#333333")
    ax_b.spines[s].set_linewidth(5 * PT)
# the value scale of the source sits slightly off the bars
ax_b2 = ax_b.twinx()
ax_b2.set_ylim(-24, 1451)
ax_b2.yaxis.tick_left()
ax_b2.set_yticks(count_ticks)
ax_b2.tick_params(length=0, pad=4, labelsize=11.2)
for t in ax_b2.get_yticklabels():
    t.set_family(CALIBRI)
for s in ax_b2.spines.values():
    s.set_visible(False)

# --- d: dot plot
ax_d = panel(943.5, 1137, 1770, 2216)
ypos = np.arange(len(go_terms))
grid_lines(ax_d, ratio_ticks, ratio_minor, ypos, [])
stops = [(0, "#FF0000"), (0.2, "#FF0A50"), (0.37, "#F0007F"), (0.69, "#A800C0"), (0.755, "#A000D0"), (0.9, "#5A10E0"), (1, "#0000FF")]
cmap = LinearSegmentedColormap.from_list("padj", stops)
norm = Normalize(0.00107, 0.0475)
dot_px = {3: 19, 4: 28, 6: 35, 7: 38.6, 8: 40.7}
ax_d.scatter(gene_ratio, ypos, s=[(dot_px[c] * PT) ** 2 for c in go_count], c=p_adjust, cmap=cmap, norm=norm, lw=0, zorder=3)
ax_d.set_xlim(0.0340, 0.1018)
ax_d.set_ylim(len(go_terms) - 1 + 0.586, -0.586)
ax_d.set_yticks(ypos)
ax_d.set_yticklabels(go_terms)
ax_d.set_xticks(ratio_ticks)
ax_d.set_xticklabels(["0.04", "0.06", "0.08", "0.10"])
box(ax_d)
ax_d.tick_params(axis="y", labelsize=10.7, pad=4)
ax_d.tick_params(axis="x", labelsize=7.9, pad=3)
for t in ax_d.get_yticklabels():
    t.set_transform(t.get_transform() + ScaledTranslation(0, 5 / DPI, fig.dpi_scale_trans))
ax_d.set_xlabel("GeneRatio", fontsize=9.4, labelpad=4, x=0.54)

cax = panel(1808, 1388, 1853, 1614)
cb = fig.colorbar(ScalarMappable(norm=norm, cmap=cmap), cax=cax)
cb.outline.set_visible(False)
cax.invert_yaxis()
cb.set_ticks(padj_ticks)
cb.set_ticklabels(["0.01", "0.02", "0.03", "0.04"])
cax.tick_params(length=0, labelsize=5.6, pad=2.5)
for v in padj_ticks:
    cax.plot([0, 0.2], [v, v], color="white", lw=1.5 * PT, transform=cax.get_yaxis_transform())
    cax.plot([0.8, 1], [v, v], color="white", lw=1.5 * PT, transform=cax.get_yaxis_transform())

# --- everything placed directly on the image: venn, network, legends, letters
canvas = fig.add_axes([0, 0, 1, 1], zorder=10)
canvas.set_xlim(0, W)
canvas.set_ylim(H, 0)
canvas.axis("off")
canvas.patch.set_alpha(0)

# legend of b
canvas.add_patch(Rectangle((1289, 134), 38, 37, color="#FF0000", lw=0))
canvas.add_patch(Rectangle((1431, 134), 39, 37, color="#001A5E", lw=0))
canvas.text(1367, 154, "up", ha="center", va="center", fontsize=12.4, family=CALIBRI)
canvas.text(1552, 154, "down", ha="center", va="center", fontsize=12.4, family=CALIBRI)

# texts of a
canvas.text(608, 62, "Brown_vs_White", ha="center", va="center", fontsize=10.6, zorder=5)
canvas.text(604, 139, "Up  1120", ha="center", va="center", fontsize=10.6, zorder=5)
canvas.text(604, 186, "Down  1146", ha="center", va="center", fontsize=10.6, zorder=5)

# c: venn
R = 236
canvas.add_patch(Circle((2793, 414), R, fc=(1, 0, 0, 0.33), ec="#FF3B25", lw=10 * PT))
canvas.add_patch(Circle((2963, 676), R, fc=(0, 167 / 255, 49 / 255, 0.5), ec="#008A00", lw=10 * PT))
canvas.add_patch(Circle((2620, 676), R, fc=(13 / 255, 125 / 255, 204 / 255, 0.33), ec="#0A96D4", lw=10 * PT))
for name, xy in zip(venn_names, [(2814, 132), (2554, 957), (3054, 957)]):
    canvas.text(*xy, name, ha="center", va="center", fontsize=12.3)
venn_xy = [(2791, 373), (2693, 535), (2911, 532), (2794, 596), (2603, 689), (2794, 720), (2988, 685)]
for label, xy in zip(venn_counts, venn_xy):
    canvas.text(*xy, label, ha="center", va="center", fontsize=12.8)

# d: legends
canvas.text(1808, 1362, "p.adjust", ha="left", va="center", fontsize=6.9)
canvas.text(1808, 1689, "Count", ha="left", va="center", fontsize=7.4)
count_px = [22.5, 35, 41, 43.5, 48, 50]
count_y = [1737, 1783, 1828, 1876, 1929, 1987]
canvas.scatter([1837] * 6, count_y, s=[(d * PT) ** 2 for d in count_px], c="black", lw=0)
for lev, y in zip(count_levels, count_y):
    canvas.text(1888, y + 2, str(lev), ha="center", va="center", fontsize=5.5)

# e: network
for term, genes in term_edges.items():
    for g in genes:
        canvas.plot(*zip(node_xy[term], node_xy[g]), color="#BDBDBD", lw=6 * PT, zorder=1, solid_capstyle="round")
gene_names = [n for n in node_xy if n not in term_edges and n != "Lum"]
canvas.scatter([node_xy[n][0] for n in gene_names], [node_xy[n][1] for n in gene_names],
               s=(17 * PT) ** 2, c="#B5B5B5", lw=0, zorder=2)
canvas.scatter(*node_xy["Lum"], s=(35 * PT) ** 2, c="#F2C48F", lw=0, zorder=2)
for term in term_edges:
    canvas.scatter(*node_xy[term], s=(term_size_px[term] * PT) ** 2, c="#F2C48F", lw=0, zorder=3)
for g, xy in gene_label_xy.items():
    canvas.text(*xy, g, ha="center", va="center", fontsize=5.5, zorder=4)
for term, xy in term_label_xy.items():
    canvas.text(*xy, term, ha="center", va="center", fontsize=8.1, color="#FF0000", zorder=4)
canvas.text(3074, 1222, "size", ha="center", va="center", fontsize=9)
size_px = [29, 32, 33, 38]
size_y = [1264, 1298, 1335, 1375]
canvas.scatter([3051] * 4, size_y, s=[(d * PT) ** 2 for d in size_px], c="black", lw=0)
for lev, y in zip(size_levels, size_y):
    canvas.text(3090, y + 1, str(lev), ha="center", va="center", fontsize=9)

# panel letters
for letter, xy in zip("abcde", [(32, 74), (1108, 83), (2391, 83), (39, 1163), (1934, 1140)]):
    canvas.text(*xy, letter, ha="center", va="center", fontsize=19)

fig.savefig("out.png", dpi=DPI)
